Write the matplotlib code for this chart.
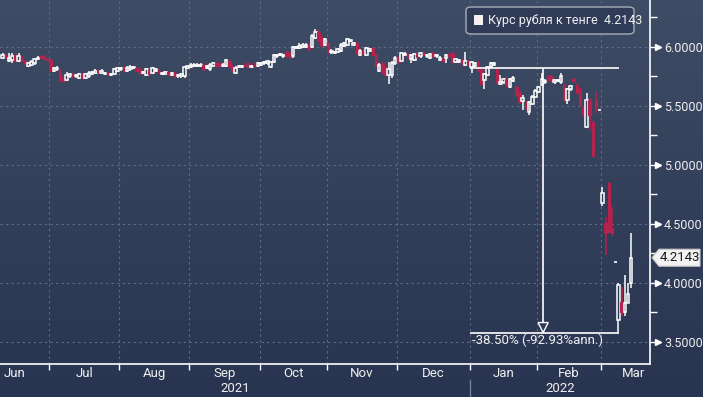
import numpy as np
import pandas as pd
import matplotlib
matplotlib.use("Agg")
import matplotlib.pyplot as plt
from matplotlib.patches import Rectangle, Polygon, FancyBboxPatch
from matplotlib.transforms import blended_transform_factory

plt.rcParams['font.family'] = ['Roboto', 'DejaVu Sans']

# daily candles, RUB/KZT
dates = pd.bdate_range("2021-06-10", "2022-03-14")

opens = [
    # Jun
    5.91, 5.93, 5.88, 5.89, 5.93, 5.88, 5.91, 5.88, 5.84, 5.85, 5.86, 5.90, 5.92, 5.92, 5.90,
    # Jul
    5.89, 5.80, 5.81, 5.80, 5.74, 5.72, 5.75, 5.77, 5.75, 5.74, 5.77, 5.74, 5.75, 5.77, 5.78, 5.80,
    5.78, 5.77, 5.78, 5.76, 5.77, 5.80,
    # Aug
    5.81, 5.83, 5.80, 5.81, 5.82, 5.82, 5.81, 5.78, 5.76, 5.80, 5.78, 5.80, 5.80, 5.77, 5.77, 5.79,
    5.76, 5.78, 5.75, 5.75, 5.75, 5.82,
    # Sep
    5.83, 5.84, 5.84, 5.84, 5.85, 5.82, 5.81, 5.84, 5.86, 5.86, 5.84, 5.84, 5.88, 5.84, 5.78, 5.83,
    5.83, 5.85, 5.86, 5.83, 5.85, 5.84,
    # Oct
    5.85, 5.86, 5.86, 5.83, 5.87, 5.92, 5.93, 5.92, 5.96, 5.95, 5.92, 5.99, 5.99, 6.00, 6.00, 6.02,
    6.00, 6.08, 6.13, 6.08, 6.02,
    # Nov
    6.03, 5.96, 5.95, 5.96, 5.97, 6.01, 6.02, 6.05, 6.02, 6.03, 5.93, 5.97, 5.93, 5.97, 5.99, 5.93,
    5.80, 5.86, 5.83, 5.76, 5.76, 5.86,
    # Dec
    5.91, 5.88, 5.93, 5.94, 5.90, 5.89, 5.94, 5.92, 5.95, 5.92, 5.91, 5.95, 5.92, 5.89, 5.90, 5.91,
    5.94, 5.95, 5.87, 5.87, 5.89, 5.85, 5.88,
    # Jan
    5.83, 5.84, 5.87, 5.81, 5.72, 5.76, 5.83, 5.85, 5.81, 5.69, 5.70, 5.73, 5.66, 5.71, 5.66, 5.62,
    5.54, 5.53, 5.45, 5.52, 5.58,
    # Feb
    5.62, 5.68, 5.70, 5.75, 5.75, 5.70, 5.71, 5.70, 5.68, 5.55, 5.64, 5.73, 5.68, 5.64, 5.48, 5.32,
    5.55, 5.36, 5.55, 5.47,
    # Mar
    4.68, 4.51, 4.85, 4.47, 4.18, 3.69, 3.84, 3.75, 3.83, 4.00,
]
highs = [
    5.95, 5.94, 5.95, 5.95, 5.94, 5.95, 5.92, 5.89, 5.87, 5.89, 5.91, 5.92, 5.93, 5.93, 5.91,
    5.90, 5.83, 5.84, 5.81, 5.75, 5.79, 5.78, 5.78, 5.77, 5.78, 5.78, 5.78, 5.80, 5.80, 5.81, 5.81,
    5.81, 5.79, 5.79, 5.78, 5.82, 5.83,
    5.83, 5.84, 5.84, 5.85, 5.84, 5.83, 5.82, 5.80, 5.82, 5.81, 5.83, 5.82, 5.81, 5.79, 5.80, 5.80,
    5.79, 5.79, 5.77, 5.78, 5.84, 5.85,
    5.86, 5.86, 5.86, 5.86, 5.86, 5.85, 5.86, 5.87, 5.87, 5.87, 5.86, 5.90, 5.89, 5.85, 5.84, 5.85,
    5.85, 5.86, 5.87, 5.85, 5.86, 5.87,
    5.87, 5.88, 5.89, 5.88, 5.94, 5.94, 5.95, 5.94, 5.97, 5.96, 6.01, 6.01, 6.03, 6.03, 6.03, 6.03,
    6.11, 6.15, 6.14, 6.09, 6.08,
    6.04, 5.98, 5.97, 5.99, 6.03, 6.04, 6.08, 6.07, 6.04, 6.04, 5.98, 5.98, 6.00, 5.99, 6.00, 5.94,
    5.86, 5.87, 5.84, 5.87, 5.88, 5.92,
    5.92, 5.96, 5.96, 5.95, 5.94, 5.95, 5.95, 5.96, 5.96, 5.94, 5.95, 5.96, 5.94, 5.92, 5.91, 5.94,
    5.95, 5.96, 5.91, 5.90, 5.90, 5.96, 5.89,
    5.88, 5.87, 5.88, 5.82, 5.78, 5.84, 5.87, 5.87, 5.82, 5.76, 5.74, 5.74, 5.74, 5.75, 5.67, 5.63,
    5.59, 5.54, 5.54, 5.59, 5.64,
    5.67, 5.78, 5.73, 5.76, 5.76, 5.73, 5.73, 5.78, 5.69, 5.65, 5.68, 5.74, 5.69, 5.65, 5.50, 5.61,
    5.57, 5.37, 5.63, 5.47,
    4.81, 4.56, 4.86, 4.64, 4.18, 4.00, 3.97, 4.07, 4.00, 4.42,
]
lows = [
    5.90, 5.90, 5.87, 5.86, 5.87, 5.87, 5.87, 5.85, 5.83, 5.84, 5.85, 5.89, 5.90, 5.89, 5.88,
    5.79, 5.79, 5.80, 5.70, 5.70, 5.71, 5.74, 5.74, 5.74, 5.73, 5.73, 5.73, 5.74, 5.76, 5.77, 5.78,
    5.77, 5.76, 5.75, 5.75, 5.76, 5.79,
    5.80, 5.79, 5.79, 5.80, 5.81, 5.79, 5.76, 5.77, 5.75, 5.76, 5.77, 5.79, 5.77, 5.76, 5.76, 5.75,
    5.75, 5.74, 5.74, 5.74, 5.74, 5.81,
    5.82, 5.83, 5.83, 5.83, 5.80, 5.81, 5.80, 5.83, 5.83, 5.83, 5.83, 5.83, 5.82, 5.79, 5.77, 5.82,
    5.82, 5.83, 5.82, 5.82, 5.83, 5.83,
    5.84, 5.85, 5.85, 5.82, 5.86, 5.91, 5.92, 5.91, 5.91, 5.90, 5.91, 5.98, 5.98, 5.99, 5.99, 5.97,
    5.99, 6.07, 6.04, 6.00, 6.01,
    5.95, 5.94, 5.94, 5.95, 5.96, 6.00, 6.01, 6.04, 6.01, 5.93, 5.92, 5.93, 5.92, 5.96, 5.92, 5.83,
    5.79, 5.77, 5.75, 5.69, 5.74, 5.85,
    5.86, 5.87, 5.92, 5.90, 5.86, 5.88, 5.91, 5.91, 5.92, 5.91, 5.90, 5.91, 5.91, 5.88, 5.87, 5.86,
    5.91, 5.86, 5.86, 5.86, 5.85, 5.84, 5.84,
    5.78, 5.83, 5.79, 5.68, 5.64, 5.75, 5.82, 5.84, 5.69, 5.68, 5.69, 5.66, 5.65, 5.70, 5.58, 5.52,
    5.47, 5.47, 5.42, 5.51, 5.57,
    5.61, 5.67, 5.69, 5.71, 5.70, 5.69, 5.70, 5.69, 5.54, 5.52, 5.63, 5.70, 5.60, 5.50, 5.41, 5.31,
    5.30, 5.07, 5.44, 5.47,
    4.65, 4.24, 4.42, 4.40, 4.18, 3.58, 3.72, 3.72, 3.83, 3.96,
]
closes = [
    5.93, 5.91, 5.91, 5.92, 5.88, 5.92, 5.88, 5.86, 5.86, 5.87, 5.90, 5.91, 5.91, 5.90, 5.89,
    5.80, 5.82, 5.82, 5.72, 5.71, 5.76, 5.77, 5.75, 5.76, 5.77, 5.74, 5.77, 5.78, 5.79, 5.80, 5.79,
    5.80, 5.78, 5.76, 5.77, 5.81, 5.82,
    5.82, 5.80, 5.82, 5.83, 5.83, 5.80, 5.77, 5.79, 5.81, 5.77, 5.82, 5.81, 5.78, 5.78, 5.79, 5.76,
    5.78, 5.75, 5.76, 5.77, 5.83, 5.84,
    5.85, 5.85, 5.85, 5.85, 5.81, 5.84, 5.85, 5.86, 5.84, 5.84, 5.85, 5.89, 5.83, 5.80, 5.82, 5.84,
    5.84, 5.84, 5.83, 5.84, 5.84, 5.86,
    5.86, 5.87, 5.88, 5.87, 5.93, 5.93, 5.94, 5.93, 5.92, 5.91, 6.00, 6.00, 6.01, 6.02, 6.02, 5.98,
    6.09, 6.13, 6.05, 6.01, 6.07,
    5.96, 5.97, 5.96, 5.98, 6.02, 6.03, 6.07, 6.06, 6.03, 5.94, 5.97, 5.94, 5.99, 5.98, 5.93, 5.84,
    5.85, 5.78, 5.76, 5.81, 5.86, 5.91,
    5.87, 5.95, 5.94, 5.91, 5.93, 5.94, 5.92, 5.95, 5.93, 5.93, 5.94, 5.92, 5.93, 5.91, 5.88, 5.93,
    5.92, 5.87, 5.90, 5.89, 5.86, 5.88, 5.85,
    5.87, 5.86, 5.80, 5.69, 5.77, 5.83, 5.86, 5.86, 5.70, 5.70, 5.73, 5.67, 5.73, 5.74, 5.59, 5.53,
    5.57, 5.48, 5.53, 5.58, 5.63,
    5.66, 5.73, 5.71, 5.72, 5.71, 5.72, 5.72, 5.75, 5.55, 5.64, 5.67, 5.71, 5.61, 5.51, 5.43, 5.55,
    5.42, 5.08, 5.49, 5.47,
    4.76, 4.42, 4.43, 4.42, 4.18, 3.98, 3.75, 3.83, 3.91, 4.2143,
]

series_name = "Курс рубля к тенге"
last_price = 4.2143
move_from, move_to = 5.82, 3.58
move_text = "-38.50% (-92.93%ann.)"
y_major = [3.5, 4.0, 4.5, 5.0, 5.5, 6.0]
y_minor = [3.75, 4.25, 4.75, 5.25, 5.75, 6.25]

assert len(opens) == len(highs) == len(lows) == len(closes) == len(dates)

o = np.array(opens)
h = np.array(highs)
l = np.array(lows)
c = np.array(closes)
x = np.arange(len(dates))

W, H = 703, 397
fig = plt.figure(figsize=(W / 100, H / 100), dpi=100)

# background gradient
bg = fig.add_axes([0, 0, 1, 1], zorder=-10)
grad = np.linspace(0, 1, 256).reshape(-1, 1)
top_col = np.array([63, 76, 101]) / 255
bot_col = np.array([40, 52, 80]) / 255
img = top_col * (1 - grad[..., None]) + bot_col * grad[..., None]
bg.imshow(img, aspect='auto', extent=[0, 1, 0, 1])
bg.axis('off')

ax = fig.add_axes([0, 1 - 364 / H, 650 / W, 364 / H])
ax.patch.set_alpha(0)

red = '#b3234d'
wcol = 'white'
bw = 0.8
for i in x:
    lo_b, hi_b = min(o[i], c[i]), max(o[i], c[i])
    up = c[i] >= o[i]
    col = wcol if up else red
    lw = 1.1
    if h[i] > hi_b:
        ax.vlines(i, hi_b, h[i], color=col, lw=lw, zorder=3)
    if l[i] < lo_b:
        ax.vlines(i, l[i], lo_b, color=col, lw=lw, zorder=3)
    if hi_b - lo_b < 0.004:
        ax.hlines(hi_b, i - bw / 2, i + bw / 2, color=col, lw=1.2, zorder=3)
    elif up:
        ax.add_patch(Rectangle((i - bw / 2, lo_b), bw, hi_b - lo_b, facecolor='none',
                               edgecolor=wcol, lw=1.1, zorder=3))
    else:
        ax.add_patch(Rectangle((i - bw / 2, lo_b), bw, hi_b - lo_b, facecolor=red,
                               edgecolor=red, lw=0.8, zorder=3))

ax.set_xlim(-0.86, 202.9)
ax.set_ylim(3.3136, 6.398)

# month boundaries
months = dates.to_period('M')
starts = [i for i in range(1, len(dates)) if months[i] != months[i - 1]]
bounds = [s - 0.5 for s in starts]
for b in bounds:
    ax.axvline(b, color='#5e6d8a', lw=0.8, ls=(0, (2, 3)), zorder=1)
for v in y_major:
    ax.axhline(v, color='#5e6d8a', lw=0.8, ls=(0, (2, 3)), zorder=1)

# spines and ticks
for s in ['left', 'top']:
    ax.spines[s].set_visible(False)
for s in ['right', 'bottom']:
    ax.spines[s].set_color('white')
    ax.spines[s].set_linewidth(1.2)
ax.yaxis.tick_right()
ax.set_yticks(y_major)
ax.set_yticklabels([f"{v:.4f}" for v in y_major])
ax.set_yticks(y_minor, minor=True)
ax.tick_params(axis='y', which='major', length=8, width=1, color='white',
               labelcolor='#f0f0f0', labelsize=9, pad=2)
ax.tick_params(axis='y', which='minor', length=5, width=1, color='white')
bt = blended_transform_factory(ax.transAxes, ax.transData)
ax.plot([1.012] * len(y_major), y_major, ls='none', marker='>', ms=4, color='white',
        transform=bt, clip_on=False)

ax.set_xticks(bounds)
ax.set_xticklabels([])
ax.tick_params(axis='x', length=4, width=1, color='white')

# month and year labels
tx = blended_transform_factory(ax.transData, ax.transAxes)
xmin, xmax = ax.get_xlim()
edges = [xmin] + bounds + [xmax]
mnames = [p.strftime('%b') for p in months.unique()]
for k, name in enumerate(mnames):
    a, b = edges[k], edges[k + 1]
    if k == 0:
        ax.text(a + 1, -0.027, name, transform=tx, ha='left', va='center',
                color='#f0f0f0', fontsize=9.5)
    elif k == len(mnames) - 1:
        ax.text(b - 1.5, -0.027, name, transform=tx, ha='right', va='center',
                color='#f0f0f0', fontsize=9.5)
    else:
        ax.text((a + b) / 2, -0.027, name, transform=tx, ha='center', va='center',
                color='#f0f0f0', fontsize=9.5)
years = dates.year
ystart = [i for i in range(1, len(dates)) if years[i] != years[i - 1]][0] - 0.5
ax.text((xmin + ystart) / 2, -0.066, str(years[0]), transform=tx, ha='center',
        va='center', color='#f0f0f0', fontsize=9.5)
ax.text((ystart + xmax) / 2, -0.066, str(years[-1]), transform=tx, ha='center',
        va='center', color='#f0f0f0', fontsize=9.5)
ax.plot([ystart, ystart], [-0.045, -0.1], transform=tx, color='#77819a', lw=1,
        clip_on=False)

# move annotation
a0, a1 = 146.5, 193.2
xa = 169.4
ax.hlines(move_from, a0, a1, color='white', lw=1.2, zorder=4)
ax.hlines(move_to, a0, a1, color='white', lw=1.2, zorder=4)
ax.vlines(xa, move_to + 0.08, move_from, color='white', lw=1.2, zorder=4)
ax.add_patch(Polygon([(xa - 1.6, move_to + 0.085), (xa + 1.6, move_to + 0.085),
                      (xa, move_to)], closed=True, facecolor='#2e3a56',
                     edgecolor='white', lw=1, zorder=5))
ax.text(a0 + 0.5, move_to - 0.065, move_text, color='#f0f0f0', fontsize=9.5,
        ha='left', va='center', zorder=5)

# legend box
fig.patches.append(FancyBboxPatch((466 / W, 1 - 34 / H), 168 / W, 27 / H,
                                  boxstyle='round,pad=0,rounding_size=0.008',
                                  transform=fig.transFigure, facecolor='#2f3b57',
                                  edgecolor='#a8adb8', lw=1, zorder=10))
fig.patches.append(Rectangle((474 / W, 1 - 25 / H), 9 / W, 10 / H, transform=fig.transFigure,
                             facecolor='#f8f0ee', edgecolor='none', zorder=11))
fig.text(488 / W, 1 - 20.5 / H, f"{series_name}  {last_price:.4f}", color='#f0f0f0',
         fontsize=9, ha='left', va='center', zorder=12)

# last price tag
yp = ax.transData.transform((0, last_price))[1]
tag = [(652, yp), (659, yp + 8.5), (700, yp + 8.5), (700, yp - 8.5), (659, yp - 8.5)]
fig.patches.append(Polygon([(px / W, py / H) for px, py in tag], closed=True,
                           transform=fig.transFigure, facecolor='#f2f2f2',
                           edgecolor='#c8c8c8', lw=0.8, zorder=10))
fig.text(679.5 / W, yp / H, f"{last_price:.4f}", color='#1a1a1a', fontsize=9.5,
         ha='center', va='center', zorder=11)

fig.savefig('out.png', dpi=100)
